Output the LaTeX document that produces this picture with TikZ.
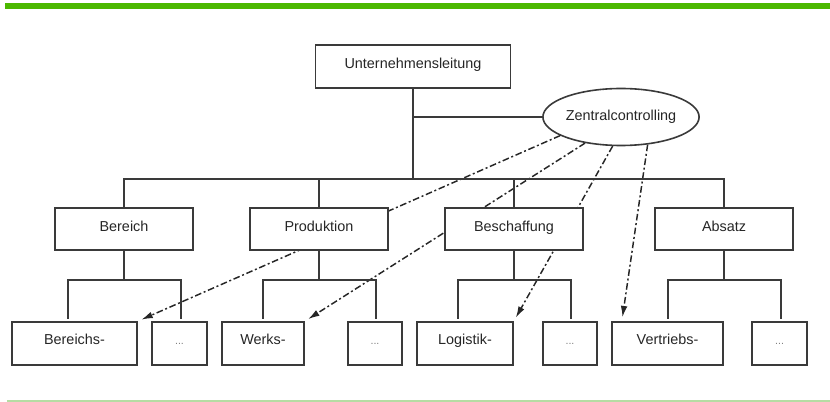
\documentclass[tikz,border=0pt]{standalone}
\usepackage{fontspec}
\setmainfont{Liberation Sans}
\usepackage{xcolor}
\usepackage{tikz}
\usetikzlibrary{shapes,arrows.meta,backgrounds}
\definecolor{linegray}{HTML}{3A3A3A}
\definecolor{textgray}{HTML}{262626}
\definecolor{topgreen}{HTML}{4CB800}
\definecolor{rulegreen}{HTML}{B5DCA3}
\tikzstyle{orgbox} = [rectangle, draw=linegray, line width=1.2pt, fill=white, text=textgray, align=center, inner sep=0pt, text height=8pt, text depth=4.5pt]
\tikzstyle{topbox} = [orgbox, minimum width=146.25pt, minimum height=32.25pt]
\tikzstyle{areabox} = [orgbox, minimum width=103.5pt, minimum height=31.5pt]
\tikzstyle{unitbox} = [orgbox, minimum height=32.25pt, text depth=6pt]
\tikzstyle{dotbox} = [orgbox, minimum height=32.25pt, text=gray, font=\footnotesize, text height=1pt, text depth=0pt]
\tikzstyle{ctrlnode} = [ellipse, draw=linegray, line width=1.2pt, fill=white, text=textgray, inner sep=0pt, minimum width=106.5pt, minimum height=42.75pt]
\tikzstyle{link} = [draw=linegray, line width=1.5pt]
\tikzstyle{ctrlarrow} = [draw=black!85, line width=1.1pt, dash pattern=on 5pt off 2pt on 1.5pt off 2pt, -{Latex[length=8.5pt,width=5pt]}, shorten >=3pt]

\begin{document}
\begin{tikzpicture}[x=0.75pt, y=-0.75pt, font=\fontsize{10.8}{13}\selectfont]

    \useasboundingbox (0,0) rectangle (830,402);
    \fill[topgreen] (5,3.3) rectangle (830,9.5);
    \draw[rulegreen, line width=1pt] (7,401) -- (830,401);

    % top level
    \node[topbox] at (413,66.5) (leitung) {Unternehmensleitung};
    \node[ctrlnode] at (621,117) (zentral) {Zentralcontrolling};

    % areas
    \node[areabox] at (124,229) (bereich) {Bereich};
    \node[areabox] at (319,229) (produktion) {Produktion};
    \node[areabox] at (514,229) (beschaffung) {Beschaffung};
    \node[areabox] at (724,229) (absatz) {Absatz};

    % units
    \node[unitbox, minimum width=93.75pt] at (74.5,343.5) (bereichs) {Bereichs-};
    \node[dotbox, minimum width=41.25pt] at (179.5,343.5) (bereichsdots) {...};
    \node[unitbox, minimum width=61.5pt] at (263,343.5) (werks) {Werks-};
    \node[dotbox, minimum width=40.5pt] at (375,343.5) (werksdots) {...};
    \node[unitbox, minimum width=72pt] at (465,343.5) (logistik) {Logistik-};
    \node[dotbox, minimum width=40.5pt] at (570,343.5) (logistikdots) {...};
    \node[unitbox, minimum width=83.25pt] at (667.5,343.5) (vertriebs) {Vertriebs-};
    \node[dotbox, minimum width=41.25pt] at (779.5,343.5) (vertriebsdots) {...};

    % tree lines
    \coordinate (bus) at (413,179);
    \draw[link] (leitung.south) -- (bus);
    \draw[link] (leitung.south |- zentral.west) -- (zentral.west);
    \draw[link] (bereich.north) |- (bus) -| (absatz.north);
    \draw[link] (produktion.north) -- (produktion.north |- bus);
    \draw[link] (beschaffung.north) -- (beschaffung.north |- bus);

    \foreach \area in {bereich, produktion, beschaffung, absatz} {
        \draw[link] (\area.south) -- ++(0,29) coordinate (\area-fork);
        \draw[link] ([xshift=-42pt]\area-fork) ++(0,39) -- ++(0,-39) -- ++(113,0) -- ++(0,39);
    }

    % controlling links
    \begin{scope}[on background layer]
    \draw[ctrlarrow] (zentral.197) -- (bereichs.north east);
    \draw[ctrlarrow] (zentral.216) -- (werks.north east);
    \draw[ctrlarrow] (zentral.254) -- (logistik.north east);
    \draw[ctrlarrow] (zentral.314) -- ([xshift=8pt]vertriebs.north west);
    \end{scope}

\end{tikzpicture}
\end{document}
